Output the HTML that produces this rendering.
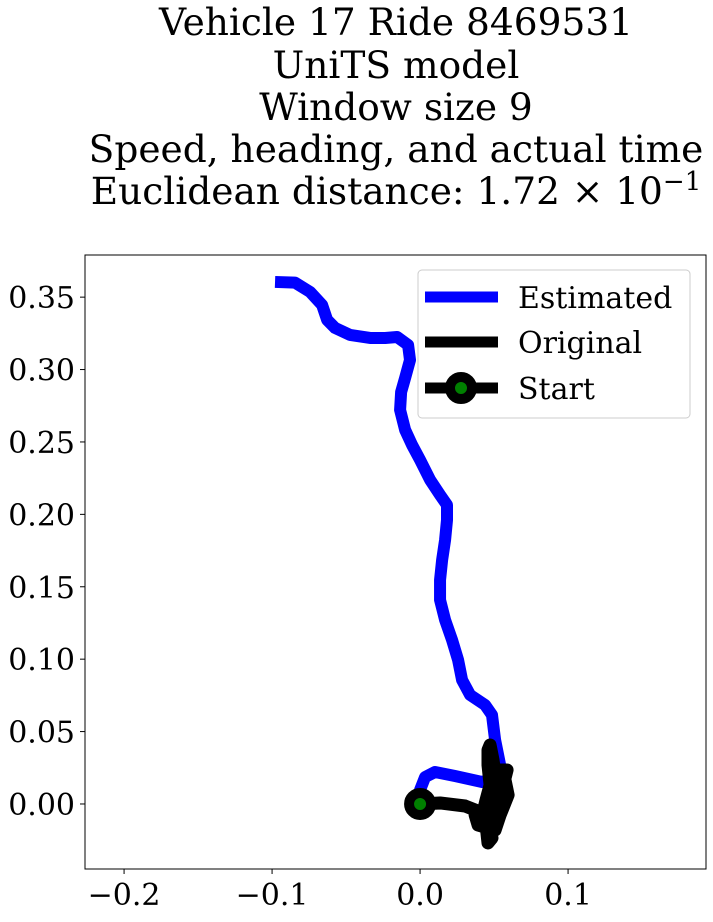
<!DOCTYPE html>
<html><head><meta charset="utf-8"><style>
body{margin:0;background:#fff;}
svg text{font-family:"DejaVu Serif","Liberation Serif",serif;fill:#000;}
</style></head><body>
<svg id="chart" width="713" height="917" xmlns="http://www.w3.org/2000/svg">
<g font-size="37.5" text-anchor="middle">
<text x="396" y="35">Vehicle 17 Ride 8469531</text>
<text x="396" y="78">UniTS model</text>
<text x="396" y="120">Window size 9</text>
<text x="396" y="162">Speed, heading, and actual time</text>
<text x="396" y="204">Euclidean distance: 1.72 × 10<tspan dy="-14" font-size="26">−1</tspan></text>
</g>
<g id="plot"></g>
</svg>
<script>
const estX=[-0.098,-0.0845,-0.0743,-0.0662,-0.0628,-0.0574,-0.0473,-0.0338,-0.0236,-0.0155,-0.0081,-0.0068,-0.0101,-0.0128,-0.0135,-0.0101,-0.0054,0,0.0068,0.0135,0.0182,0.0182,0.0169,0.0149,0.0135,0.0135,0.0169,0.0216,0.0257,0.0284,0.0338,0.0439,0.0486,0.0507,0.0541,0.0527,0.0419,0.0236,0.0101,0.0034,0,0];
const estY=[0.3605,0.360,0.3536,0.3446,0.3343,0.3287,0.3239,0.3218,0.3218,0.3225,0.3170,0.3066,0.2942,0.2845,0.2721,0.2583,0.2479,0.2376,0.2238,0.2134,0.2065,0.1961,0.1823,0.1685,0.1547,0.1409,0.1271,0.1133,0.0994,0.0856,0.0753,0.0684,0.0615,0.0442,0.0269,0.0180,0.0152,0.0193,0.0221,0.0186,0.0097,0];
const origX=[0,0.0135,0.0304,0.0405,0.0459,0.0486,0.0459,0.0446,0.0419,0.0473,0.0493,0.0520,0.0541,0.0588,0.0554,0.0527,0.0486,0.0405,0.0446,0.0473,0.0459,0.0459,0.0473,0.0493,0.0507,0.0574,0.0595,0.0541,0.0507,0.0392,0.0372];
const origY=[0,0.0007,-0.0014,-0.0055,-0.0124,-0.0235,-0.0269,-0.0145,-0.0076,-0.0028,0.0062,0.0166,0.0235,0.0235,0.0097,-0.0041,-0.0124,-0.0145,0.0028,0.0131,0.0269,0.0373,0.0407,0.0304,0.0200,0.0166,0.0062,-0.0076,-0.0180,-0.0145,-0.0076];
const xTicks=[-0.2,-0.1,0.0,0.1];
const xTickLabels=["−0.2","−0.1","0.0","0.1"];
const yTicks=[0,0.05,0.1,0.15,0.2,0.25,0.3,0.35];
const yTickLabels=["0.00","0.05","0.10","0.15","0.20","0.25","0.30","0.35"];
const L=85,R=706,T=255,B=869;
const xMin=-0.2264,xMax=0.1932,yMin=-0.0449,yMax=0.3791;
const sx=v=>L+(v-xMin)/(xMax-xMin)*(R-L);
const sy=v=>B-(v-yMin)/(yMax-yMin)*(B-T);
const NS="http://www.w3.org/2000/svg";
const g=document.getElementById('plot');
function mk(t,a,p){const e=document.createElementNS(NS,t);for(const k in a)e.setAttribute(k,a[k]);(p||g).appendChild(e);return e;}
const clip=mk('clipPath',{id:'cp'});mk('rect',{x:L,y:T,width:R-L,height:B-T},clip);
const est=mk('polyline',{points:estX.map((v,i)=>sx(v)+','+sy(estY[i])).join(' '),fill:'none',stroke:'#0000ff','stroke-width':12,'stroke-linejoin':'round','clip-path':'url(#cp)'});


const org=mk('polyline',{points:origX.map((v,i)=>sx(v)+','+sy(origY[i])).join(' '),fill:'none',stroke:'#000','stroke-width':13,'stroke-linejoin':'round','stroke-linecap':'round','clip-path':'url(#cp)'});


const st=mk('circle',{cx:sx(origX[0]),cy:sy(origY[0]),r:11,fill:'green',stroke:'#000','stroke-width':10});


const frame=mk('rect',{x:L,y:T,width:R-L,height:B-T,fill:'none',stroke:'#000','stroke-width':1});


xTicks.forEach((v,i)=>{
 mk('line',{x1:sx(v),x2:sx(v),y1:B,y2:B+5,stroke:'#000'});
 const t=mk('text',{x:sx(v),y:B+36,'font-size':30,'text-anchor':'middle'});t.textContent=xTickLabels[i];
 
 
});
yTicks.forEach((v,i)=>{
 mk('line',{x1:L-5,x2:L,y1:sy(v),y2:sy(v),stroke:'#000'});
 const t=mk('text',{x:L-10,y:sy(v)+11,'font-size':30,'text-anchor':'end'});t.textContent=yTickLabels[i];
 
 
});
const lg=mk('g',{});


mk('rect',{x:418,y:270,width:272,height:148,rx:4,fill:'#fff','fill-opacity':0.8,stroke:'#ccc'},lg);
mk('line',{x1:425,x2:498,y1:297,y2:297,stroke:'#0000ff','stroke-width':11},lg);
mk('line',{x1:425,x2:498,y1:342,y2:342,stroke:'#000','stroke-width':11},lg);
mk('line',{x1:425,x2:498,y1:388,y2:388,stroke:'#000','stroke-width':11},lg);
mk('circle',{cx:461,cy:388,r:11,fill:'green',stroke:'#000','stroke-width':10},lg);
[["Estimated",297],["Original",342],["Start",388]].forEach(([s,y])=>{
 const t=mk('text',{x:518,y:y+11,'font-size':30},lg);t.textContent=s;
 
 
});
</script>
</body></html>
